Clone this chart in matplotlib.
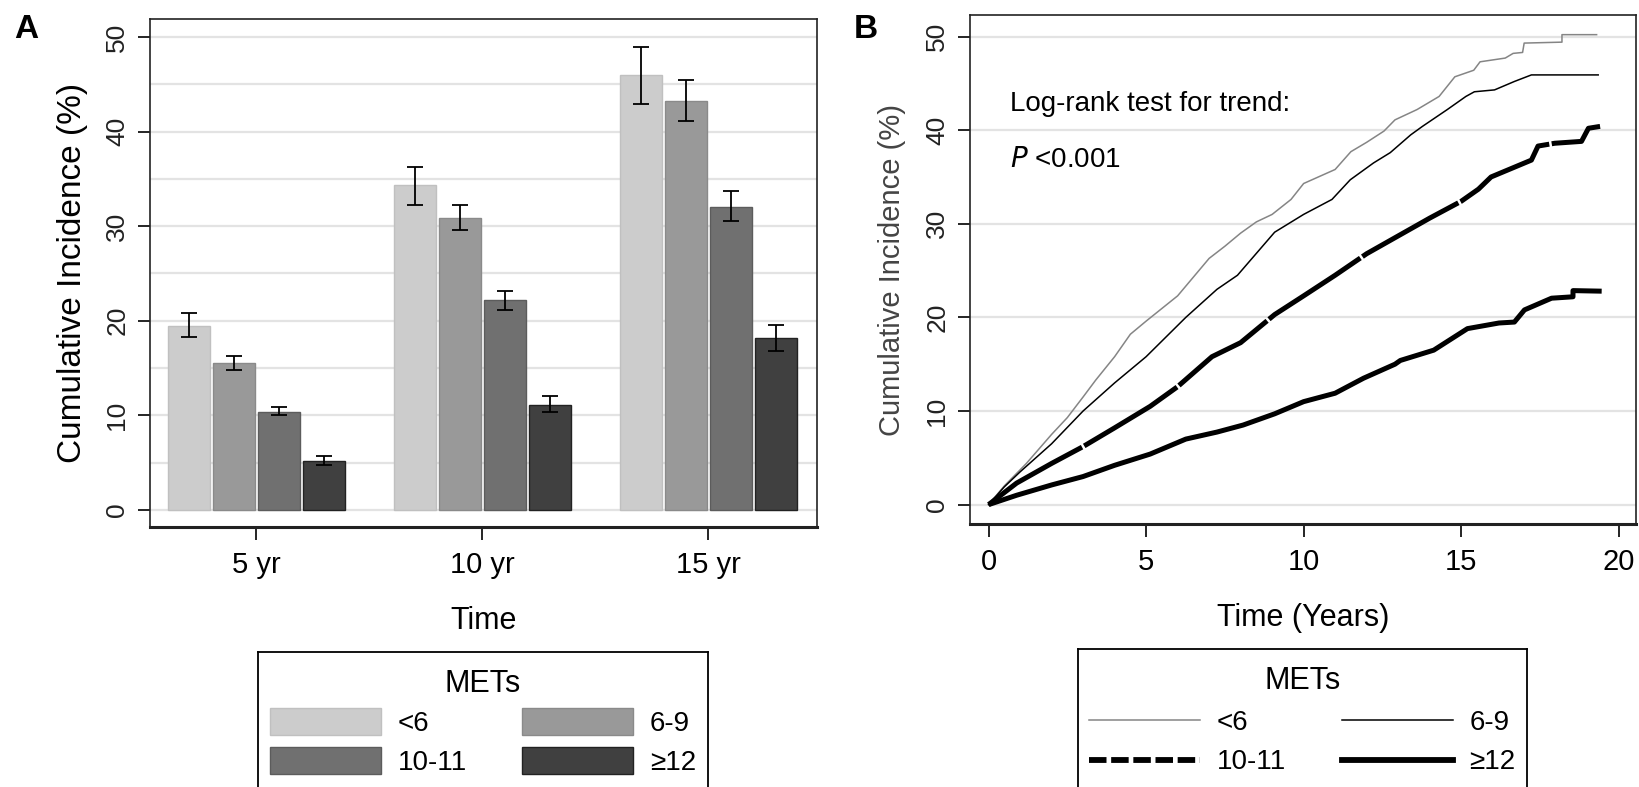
import matplotlib
matplotlib.use("Agg")
import matplotlib.pyplot as plt
from matplotlib.lines import Line2D
from matplotlib.patches import Patch
import numpy as np

plt.rcParams["font.family"] = ["Liberation Sans", "DejaVu Sans"]
NARROW = ["Liberation Sans Narrow", "Liberation Sans", "DejaVu Sans"]

# --- Panel A data: cumulative incidence (%) with 95% CI ---
time_points = ["5 yr", "10 yr", "15 yr"]
met_groups = ["<6", "6-9", "10-11", "\u226512"]
incidence = {
    "<6":    [19.5, 34.3, 46.0],
    "6-9":   [15.5, 30.9, 43.2],
    "10-11": [10.4, 22.2, 32.0],
    "\u226512": [5.2, 11.1, 18.2],
}
ci_low = {
    "<6":    [18.3, 32.2, 42.9],
    "6-9":   [14.8, 29.6, 41.1],
    "10-11": [10.0, 21.1, 30.5],
    "\u226512": [4.75, 10.4, 16.8],
}
ci_high = {
    "<6":    [20.8, 36.3, 48.9],
    "6-9":   [16.3, 32.2, 45.4],
    "10-11": [10.9, 23.1, 33.7],
    "\u226512": [5.7, 12.0, 19.6],
}
bar_colors = ["#cccccc", "#999999", "#707070", "#404040"]
bar_edges = ["#c0c0c0", "#8a8a8a", "#5c5c5c", "#222222"]

# --- Panel B data: cumulative incidence curves (years, %) ---
lt6_x = [0, 0.5, 1.2, 2.0, 2.5, 3.0, 3.4, 4.0, 4.5, 5.0, 6.0, 7.0, 7.5, 8.0, 8.5, 9.0, 9.6,
         10.0, 11.0, 11.5, 12.0, 12.55, 12.9, 13.6, 14.3, 14.8, 15.4, 15.6, 16.4, 16.65,
         16.95, 17.0, 18.2, 18.2, 19.3]
lt6_y = [0, 2.0, 4.4, 7.5, 9.3, 11.5, 13.3, 15.8, 18.2, 19.6, 22.3, 26.3, 27.6, 29.0, 30.2,
         31.0, 32.6, 34.3, 35.8, 37.7, 38.7, 39.9, 41.1, 42.2, 43.6, 45.7, 46.4, 47.3, 47.7,
         48.2, 48.3, 49.3, 49.4, 50.2, 50.2]
m69_x = [0, 0.5, 1.0, 2.0, 3.0, 4.0, 5.0, 6.26, 7.25, 7.9, 9.08, 10.0, 10.9, 11.48, 12.22,
         12.75, 13.4, 13.77, 14.56, 15.15, 15.42, 16.06, 16.69, 17.23, 19.35]
m69_y = [0, 1.9, 3.5, 6.5, 10.0, 13.0, 15.8, 20.0, 23.0, 24.5, 29.1, 31.0, 32.6, 34.7, 36.5,
         37.6, 39.5, 40.4, 42.2, 43.6, 44.1, 44.3, 45.2, 45.9, 45.9]
m1011_x = [0, 0.89, 2.0, 3.0, 4.0, 5.13, 6.0, 7.09, 8.0, 9.08, 10.0, 11.0, 12.0, 13.0, 14.0,
           15.0, 15.55, 15.95, 16.59, 17.23, 17.44, 17.97, 18.82, 19.04, 19.41]
m1011_y = [0, 2.3, 4.4, 6.2, 8.2, 10.5, 12.6, 15.8, 17.3, 20.3, 22.3, 24.5, 26.8, 28.7, 30.6,
           32.4, 33.7, 35.0, 35.9, 36.8, 38.3, 38.6, 38.8, 40.2, 40.4]
m12_x = [0, 0.89, 2.0, 3.0, 4.0, 5.13, 6.26, 7.25, 8.08, 9.08, 10.0, 11.0, 11.9, 12.9, 13.07,
         14.13, 15.2, 16.2, 16.69, 17.01, 17.87, 18.55, 18.55, 19.46]
m12_y = [0, 1.0, 2.1, 3.0, 4.2, 5.4, 7.0, 7.75, 8.5, 9.7, 11.0, 11.9, 13.5, 15.0, 15.4,
         16.5, 18.8, 19.4, 19.5, 20.8, 22.05, 22.2, 22.86, 22.8]

W, H = 1639, 787
fig = plt.figure(figsize=(W / 100, H / 100), dpi=100)


def px_axes(x0, y0, x1, y1):
    return fig.add_axes([x0 / W, 1 - y1 / H, (x1 - x0) / W, (y1 - y0) / H])


def style_box(ax):
    for side in ["left", "right", "top"]:
        ax.spines[side].set_linewidth(1.2)
        ax.spines[side].set_color("#222222")
    ax.spines["bottom"].set_linewidth(2.2)
    ax.spines["bottom"].set_color("#222222")


def row_order(items):
    # legend fills column-wise; reorder so rows read <6, 6-9 / 10-11, >=12
    return [items[0], items[2], items[1], items[3]]


# ================= Panel A =================
axA = px_axes(150, 19, 817, 527)
group_x = np.arange(len(time_points))
step, width = 0.199, 0.187
for i, g in enumerate(met_groups):
    xs = group_x + (i - 1.5) * step
    vals = np.array(incidence[g])
    yerr = [vals - np.array(ci_low[g]), np.array(ci_high[g]) - vals]
    axA.bar(xs, vals, width=width, color=bar_colors[i], edgecolor=bar_edges[i],
            linewidth=1.0, zorder=2, label=g)
    axA.errorbar(xs, vals, yerr=yerr, fmt="none", ecolor="black", elinewidth=1.3,
                 capsize=6, capthick=1.3, zorder=3)
axA.set_xlim(-0.47, 2.48)
axA.set_ylim(-1.8, 51.9)
axA.set_yticks([0, 10, 20, 30, 40, 50])
for v in np.arange(0, 51, 5):
    axA.axhline(v, color="#e3e3e3", lw=1.6, zorder=0)
axA.set_xticks(group_x)
axA.set_xticklabels(time_points, family=NARROW, fontsize=21)
axA.tick_params(axis="x", length=9, width=1.2, pad=8)
axA.tick_params(axis="y", length=9, width=1.2, pad=6, labelsize=19, labelcolor="#222222")
for lab in axA.get_yticklabels():
    lab.set_rotation(90)
    lab.set_va("center")
axA.set_xlabel("Time", family=NARROW, fontsize=22, labelpad=20)
axA.set_ylabel("Cumulative Incidence (%)", fontsize=24, labelpad=12)
style_box(axA)
fig.text(26 / W, 1 - 30 / H, "A", fontsize=24, fontweight="bold", ha="center", va="center")

# ================= Panel B =================
axB = px_axes(970, 15, 1636, 524)
axB.plot(lt6_x, lt6_y, color="#858585", lw=1.1, zorder=3)
axB.plot(m69_x, m69_y, color="black", lw=1.1, zorder=3)
axB.plot(m1011_x, m1011_y, color="black", lw=3.6, ls=(0, (22, 0.5)),
         solid_capstyle="butt", zorder=3)
axB.plot(m12_x, m12_y, color="black", lw=3.6, solid_capstyle="butt", zorder=3)
axB.set_xlim(-0.59, 20.55)
axB.set_ylim(-2.07, 52.3)
axB.set_yticks([0, 10, 20, 30, 40, 50])
axB.set_xticks([0, 5, 10, 15, 20])
axB.grid(axis="y", color="#e3e3e3", lw=1.6, zorder=0)
axB.set_axisbelow(True)
axB.tick_params(axis="x", length=9, width=1.2, pad=8)
for lab in axB.get_xticklabels():
    lab.set_family(NARROW)
    lab.set_fontsize(21)
axB.tick_params(axis="y", length=9, width=1.2, pad=6, labelsize=19, labelcolor="#222222")
for lab in axB.get_yticklabels():
    lab.set_rotation(90)
    lab.set_va("center")
axB.set_xlabel("Time (Years)", family=NARROW, fontsize=22, labelpad=20)
axB.set_ylabel("Cumulative Incidence (%)", fontsize=21, color="#444444", labelpad=14)
style_box(axB)
axB.text(0.06, 0.826, "Log-rank test for trend:", transform=axB.transAxes,
         family=NARROW, fontsize=20, va="center")
axB.text(0.06, 0.715, "$P$ <0.001", transform=axB.transAxes,
         family=NARROW, fontsize=20, va="center")
fig.text(866 / W, 1 - 29 / H, "B", fontsize=24, fontweight="bold", ha="center", va="center")

# ================= Legends (boxes run off the bottom edge) =================
legA_ax = px_axes(258, 652, 708, 810)
legA_ax.set_xticks([])
legA_ax.set_yticks([])
for s in legA_ax.spines.values():
    s.set_linewidth(1.3)
handlesA = [Patch(facecolor=c, edgecolor=e, lw=1.0) for c, e in zip(bar_colors, bar_edges)]
legA_ax.legend(row_order(handlesA), row_order(met_groups), ncol=2, loc="upper center",
               bbox_to_anchor=(0.5, 1.0), frameon=False, title="METs",
               fontsize=20, title_fontsize=22, handlelength=4.0, handleheight=1.1,
               handletextpad=0.6, columnspacing=2.0, labelspacing=0.35,
               borderpad=0.1)

legB_ax = px_axes(1078, 649, 1527, 810)
legB_ax.set_xticks([])
legB_ax.set_yticks([])
for s in legB_ax.spines.values():
    s.set_linewidth(1.3)
handlesB = [
    Line2D([], [], color="#858585", lw=1.1),
    Line2D([], [], color="black", lw=1.1),
    Line2D([], [], color="black", lw=4.2, ls=(0, (3.0, 0.8))),
    Line2D([], [], color="black", lw=4.2),
]
legB_ax.legend(row_order(handlesB), row_order(met_groups), ncol=2, loc="upper center",
               bbox_to_anchor=(0.5, 1.0), frameon=False, title="METs",
               fontsize=20, title_fontsize=22, handlelength=4.0,
               handletextpad=0.6, columnspacing=2.0, labelspacing=0.5,
               borderpad=0.1)

fig.savefig("out.png", dpi=100)
